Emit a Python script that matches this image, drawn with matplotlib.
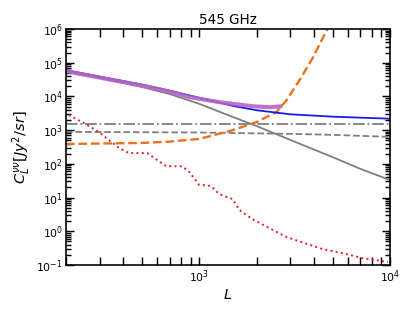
import numpy as np
import matplotlib
matplotlib.use('Agg')
import matplotlib.pyplot as plt
from matplotlib.ticker import LogLocator, NullFormatter

# values (log10 of C_L)
ell_sig = [200, 300, 500, 700, 1000, 1500, 2000, 3000, 5000, 7000, 10000]
log_total = [4.78, 4.59, 4.35, 4.17, 3.96, 3.72, 3.59, 3.47, 3.40, 3.37, 3.34]
log_cib = [4.75, 4.55, 4.28, 4.07, 3.78, 3.39, 3.12, 2.71, 2.20, 1.85, 1.52]

ell_flat = [200, 1000, 3000, 5000, 10000]
log_shot1 = [3.18, 3.18, 3.18, 3.18, 3.18]
log_shot2 = [2.95, 2.93, 2.89, 2.86, 2.80]

ell_noise = [200, 500, 700, 1000, 1500, 2000, 2540, 2870, 3360, 3930, 4720, 5000]
log_noise = [2.59, 2.62, 2.66, 2.74, 3.00, 3.24, 3.54, 3.89, 4.49, 5.14, 6.03, 6.40]

ell_red = [207, 248, 298, 380, 428, 533, 670, 814, 886, 1000, 1102, 1170,
           1274, 1403, 1491, 1624, 1900, 2335, 2869, 3568, 4437, 5654,
           7200, 9760]
log_red = [3.45, 3.21, 2.94, 2.47, 2.32, 2.32, 1.93, 1.93, 1.76, 1.37, 1.37,
           1.31, 1.10, 1.01, 0.96, 0.63, 0.36, 0.09, -0.17, -0.35, -0.53,
           -0.65, -0.80, -0.91]

ell_data = [200, 240, 305, 423, 545, 712, 886, 1274, 1900, 2335, 2730]
log_data = [4.75, 4.66, 4.55, 4.40, 4.28, 4.13, 3.98, 3.83, 3.71, 3.68, 3.71]


def p10(v):
    return 10 ** np.array(v)


fig = plt.figure(figsize=(415 / 65, 311 / 65), dpi=65)
ax = fig.add_axes([66 / 415, 1 - 265 / 311, 324 / 415, 236 / 311])

ax.plot(ell_sig, p10(log_cib), color='#7f7f7f', lw=2.0)
ax.plot(ell_flat, p10(log_shot1), color='#7f7f7f', lw=2.0, ls='-.')
ax.plot(ell_flat, p10(log_shot2), color='#7f7f7f', lw=2.0, ls='--')
ax.plot(ell_noise, p10(log_noise), color='#e8731a', lw=2.6, ls='--')
ax.plot(ell_red, p10(log_red), color='#e5262b', lw=2.2, ls=':')
ax.plot(ell_sig, p10(log_total), color='#1a1aee', lw=2.0)
ax.plot(ell_data, p10(log_data), color='#b565c6', lw=4.5, alpha=0.9,
        solid_capstyle='butt')

ax.set_xscale('log')
ax.set_yscale('log')
ax.set_xlim(200, 1e4)
ax.set_ylim(1e-1, 1e6)

ax.yaxis.set_major_locator(LogLocator(base=10, numticks=20))
ax.yaxis.set_minor_locator(LogLocator(base=10, subs=np.arange(2, 10) * 1.0,
                                      numticks=100))
ax.xaxis.set_minor_locator(LogLocator(base=10, subs=np.arange(2, 10) * 1.0,
                                      numticks=100))
ax.yaxis.set_minor_formatter(NullFormatter())
ax.xaxis.set_minor_formatter(NullFormatter())

ax.tick_params(which='both', direction='in', top=True, right=True,
               width=1.6, labelsize=12, color='black')
ax.tick_params(which='major', length=9)
ax.tick_params(axis='x', which='minor', length=9)
ax.tick_params(axis='y', which='minor', length=5)
for s in ax.spines.values():
    s.set_linewidth(1.8)

ax.set_title('545 GHz', fontsize=15)
ax.set_xlabel('$L$', fontsize=16)
ax.set_ylabel(r'$C_L^{\nu\nu} [Jy^2/sr]$', fontsize=16)

fig.savefig('out.png', dpi=65)
